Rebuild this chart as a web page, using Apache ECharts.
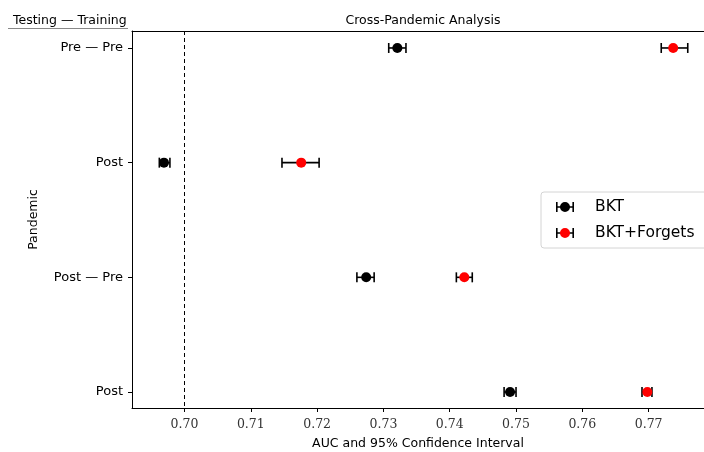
<!DOCTYPE html>
<html>
<head>
<meta charset="utf-8">
<script src="https://cdn.jsdelivr.net/npm/echarts@6/dist/echarts.min.js"></script>
<style>
    html, body { margin: 0; padding: 0; background: #fff; }
    #chart { width: 704px; height: 452px; }
</style>
</head>
<body>
<div id="chart"></div>
<script>
// rows from top to bottom
var categories = ['Pre — Pre', 'Post', 'Post — Pre', 'Post'];
var xTicks = [0.70, 0.71, 0.72, 0.73, 0.74, 0.75, 0.76, 0.77];

var bktAuc = [0.7321, 0.6969, 0.7274, 0.7491];
var bktLow = [0.7308, 0.6962, 0.7260, 0.7482];
var bktHigh = [0.7334, 0.6978, 0.7286, 0.7500];

var forgetsAuc = [0.7737, 0.7176, 0.7422, 0.7698];
var forgetsLow = [0.7719, 0.7147, 0.7410, 0.7690];
var forgetsHigh = [0.7759, 0.7203, 0.7434, 0.7705];

var sans = "'DejaVu Sans', sans-serif";
var serif = "'DejaVu Serif', serif";

function points(vals) {
    return vals.map(function (v, i) { return [v, i]; });
}
function bars(low, high) {
    return low.map(function (v, i) { return [i, v, high[i]]; });
}

function errorBar(params, api) {
    var y = api.value(0);
    var a = api.coord([api.value(1), y]);
    var b = api.coord([api.value(2), y]);
    var h = 5;
    var st = { stroke: '#000', lineWidth: 1.6 };
    return {
        type: 'group',
        children: [
            { type: 'line', shape: { x1: a[0], y1: a[1], x2: b[0], y2: b[1] }, style: st },
            { type: 'line', shape: { x1: a[0], y1: a[1] - h, x2: a[0], y2: a[1] + h }, style: st },
            { type: 'line', shape: { x1: b[0], y1: b[1] - h, x2: b[0], y2: b[1] + h }, style: st }
        ]
    };
}

var capsIcon = 'path://M0,0 h1.6 v10 h-1.6 Z M16.4,0 h1.6 v10 h-1.6 Z M0,4.2 h18 v1.6 h-18 Z';
var dotIcon = 'path://M0,5 L0.01,5 L0,5.01 Z M17.99,5 L18,5 L18,5.01 Z M4,5 A5,5 0 1 1 14,5 A5,5 0 1 1 4,5 Z';

var legendBase = {
    orient: 'vertical',
    left: 541,
    top: 192,
    itemWidth: 18,
    itemHeight: 10,
    itemGap: 10,
    padding: [7, 16, 7, 15],
    textStyle: { fontFamily: sans, fontSize: 15.5, color: '#000', padding: [0, 0, 0, 16] },
    selectedMode: false,
    data: ['BKT', 'BKT+Forgets']
};

var option = {
    animation: false,
    title: [
        { text: 'Cross-Pandemic Analysis', left: 418, top: 9, textAlign: 'center',
          textStyle: { fontFamily: sans, fontSize: 12.5, fontWeight: 'normal', color: '#000' } },
        { text: 'Testing — Training', left: 8, top: 9,
          textStyle: { fontFamily: sans, fontSize: 12.5, fontWeight: 'normal', color: '#000' } }
    ],
    graphic: [
        { type: 'line', shape: { x1: 8, y1: 28.5, x2: 128, y2: 28.5 }, style: { stroke: '#888', lineWidth: 1 } }
    ],
    legend: [
        Object.assign({}, legendBase, {
            icon: capsIcon,
            itemStyle: { color: '#000' },
            backgroundColor: '#fff',
            borderColor: '#d4d4d4',
            borderWidth: 1,
            borderRadius: 3
        }),
        Object.assign({}, legendBase, {
            icon: dotIcon,
            textStyle: Object.assign({}, legendBase.textStyle, { color: 'rgba(0,0,0,0)' })
        })
    ],
    grid: { left: 132, right: 0, top: 31, bottom: 44, outerBoundsMode: 'none' },
    xAxis: [
        {
            type: 'value',
            min: 0.69208,
            max: 0.77835,
            name: 'AUC and 95% Confidence Interval',
            nameLocation: 'middle',
            nameGap: 29,
            nameTextStyle: { fontFamily: sans, fontSize: 12.5, color: '#000' },
            splitLine: { show: false },
            axisLine: { onZero: false, lineStyle: { color: '#000', width: 1 } },
            axisTick: { customValues: xTicks, length: 4, lineStyle: { color: '#000' } },
            axisLabel: {
                customValues: xTicks,
                margin: 10,
                fontFamily: serif,
                fontSize: 12.5,
                color: '#333',
                formatter: function (v) { return v.toFixed(2); }
            }
        },
        {
            type: 'value',
            position: 'top',
            min: 0.69208,
            max: 0.77835,
            splitLine: { show: false },
            axisLine: { onZero: false, lineStyle: { color: '#000', width: 1 } },
            axisTick: { show: false },
            axisLabel: { show: false }
        }
    ],
    yAxis: {
        type: 'value',
        inverse: true,
        min: -0.148,
        max: 3.1395,
        name: 'Pandemic',
        nameLocation: 'middle',
        nameGap: 92,
        nameTextStyle: { fontFamily: sans, fontSize: 12.5, color: '#000' },
        splitLine: { show: false },
        axisLine: { onZero: false, lineStyle: { color: '#000', width: 1 } },
        axisTick: { customValues: [0, 1, 2, 3], length: 4, lineStyle: { color: '#000' } },
        axisLabel: {
            customValues: [0, 1, 2, 3],
            margin: 9,
            fontFamily: sans,
            fontSize: 13,
            color: '#000',
            formatter: function (v) { return categories[Math.round(v)]; }
        }
    },
    series: [
        {
            type: 'custom',
            name: 'BKT',
            renderItem: errorBar,
            itemStyle: { color: '#000' },
            encode: { x: [1, 2], y: 0 },
            data: bars(bktLow, bktHigh),
            z: 2,
            markLine: {
                silent: true,
                symbol: 'none',
                label: { show: false },
                lineStyle: { color: '#000', type: [4, 3], width: 1 },
                data: [{ xAxis: 0.70 }]
            }
        },
        {
            type: 'custom',
            name: 'BKT+Forgets',
            renderItem: errorBar,
            itemStyle: { color: '#ff0000' },
            encode: { x: [1, 2], y: 0 },
            data: bars(forgetsLow, forgetsHigh),
            z: 2
        },
        {
            type: 'scatter',
            name: 'BKT',
            symbolSize: 10,
            itemStyle: { color: '#000', opacity: 1 },
            data: points(bktAuc),
            z: 3
        },
        {
            type: 'scatter',
            name: 'BKT+Forgets',
            symbolSize: 10,
            itemStyle: { color: '#ff0000', opacity: 1 },
            data: points(forgetsAuc),
            z: 3
        }
    ]
};

var chart = echarts.init(document.getElementById('chart'), null, { renderer: 'canvas' });
chart.setOption(option);
</script>
</body>
</html>
